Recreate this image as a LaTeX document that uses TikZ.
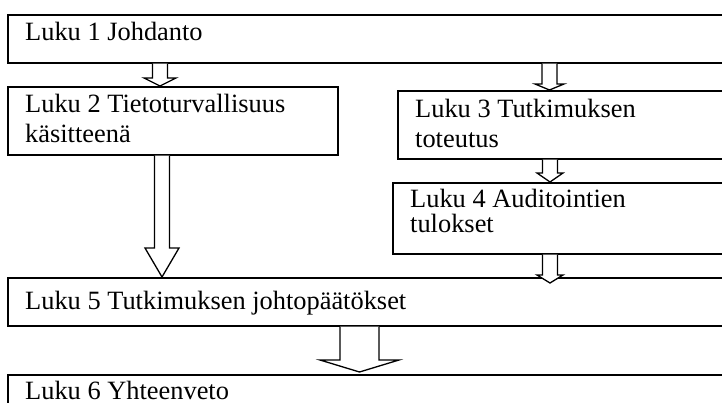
\documentclass[tikz,border=0pt]{standalone}
\usepackage{fontspec}
\setmainfont{Liberation Serif}
\usetikzlibrary{positioning,calc}

% hollow block arrow: x, from, to, half shaft, half head, head length
\newcommand{\blockarrow}[6]{%
  \draw[blk] let \p1=#2, \p2=#3 in
    (#1-#4,\y1) -- (#1-#4,\y2+#6) -- (#1-#5,\y2+#6) -- (#1,\y2)
    -- (#1+#5,\y2+#6) -- (#1+#4,\y2+#6) -- (#1+#4,\y1);}

\begin{document}
\begin{tikzpicture}[
  x=1pt, y=-1pt,
  font=\fontsize{26.4}{30}\selectfont,
  box/.style={draw, line width=1.6pt, anchor=north west, inner sep=0pt},
  txt/.style={anchor=north west, align=left, inner sep=0pt},
  blk/.style={draw, fill=white, line width=1.3pt, line join=miter}
]
\useasboundingbox (0,0) rectangle (722,403);

% ---------------- chapter boxes ----------------
\node[box, minimum width=740pt, minimum height=48pt] (intro) at (7,14) {};
\node[box, minimum width=330pt, minimum height=68pt] (theory) at (7,86) {};
\node[box, minimum width=350pt, minimum height=68pt] (method) at (397,90) {};
\node[box, minimum width=350pt, minimum height=71pt] (audit) at (392,182) {};
\node[box, minimum width=740pt, minimum height=48pt] (concl) at (7,277) {};
\node[box, minimum width=740pt, minimum height=60pt] (summary) at (7,374) {};

% ---------------- texts ----------------
\node[txt] (introtxt) at ($(intro.north west)+(18,8)$) {Luku 1 Johdanto};
\node[txt] (theorytxt) at ($(theory.north west)+(18,8)$)
  {Luku 2 Tietoturvallisuus\\ käsitteenä};
\node[txt] (methodtxt) at ($(method.north west)+(18,9)$)
  {Luku 3 Tutkimuksen\\ toteutus};
\node[txt, font=\fontsize{26.4}{25}\selectfont] (audittxt) at ($(audit.north west)+(18,7)$)
  {Luku 4 Auditointien\\ tulokset};
\node[txt] (concltxt) at ($(concl.north west)+(18,14)$)
  {Luku 5 Tutkimuksen johtopäätökset};
\node[txt, text depth=0pt] (summarytxt) at ($(summary.north west)+(18,7)$) {Luku 6 Yhteenveto};

% ---------------- arrows ----------------
\blockarrow{160pt}{(intro.south)}{(theory.north)}{7.5pt}{16pt}{8pt}
\blockarrow{549.5pt}{(intro.south)}{(method.north)}{7.5pt}{14.5pt}{6pt}
\blockarrow{550pt}{(method.south)}{(audit.north)}{7.5pt}{13pt}{9pt}
\blockarrow{162pt}{(theory.south)}{(concl.north)}{7.5pt}{17pt}{29pt}
\blockarrow{550pt}{(audit.south)}{($(concl.north)+(0,6)$)}{7.5pt}{13pt}{8pt}
\blockarrow{359.5pt}{(concl.south)}{($(summary.north)+(0,-2)$)}{19.5pt}{39.5pt}{12pt}

\end{tikzpicture}
\end{document}
